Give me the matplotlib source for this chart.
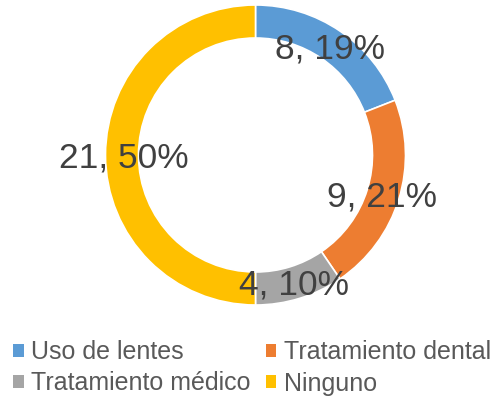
import matplotlib.pyplot as plt

plt.rcParams['font.family'] = ['Liberation Sans', 'DejaVu Sans']

labels = ['Uso de lentes', 'Tratamiento dental', 'Tratamiento médico', 'Ninguno']
values = [8, 9, 4, 21]
colors = ['#5B9BD5', '#ED7D31', '#A5A5A5', '#FFC000']
total = sum(values)

W, H = 494, 403
fig = plt.figure(figsize=(W / 100, H / 100), dpi=100)
# donut area: center (255.5, 155) px from top, radius 150 px
ax = fig.add_axes([105.5 / W, (H - 305) / H, 300 / W, 300 / H])


def fmt(pct):
    return '{:d}, {:.0f}%'.format(int(round(pct * total / 100)), pct)


wedges, _, autotexts = ax.pie(
    values, colors=colors, startangle=90, counterclock=False,
    radius=1, autopct=fmt, pctdistance=0.88,
    wedgeprops=dict(width=0.22, edgecolor='white', linewidth=1.2),
    textprops=dict(fontsize=25.5, color='#404040'))
for t in autotexts:
    t.set_va('center_baseline')
ax.set_xlim(-1, 1)
ax.set_ylim(-1, 1)
ax.set_aspect('equal')
ax.axis('off')

# legend laid out row by row: matplotlib fills columns first
order = [0, 2, 1, 3]
leg = fig.legend([wedges[i] for i in order], [labels[i] for i in order],
                 ncol=2, loc='upper left', bbox_to_anchor=(13 / W, 1 - 340 / H),
                 frameon=False, fontsize=18, handlelength=0.42, handleheight=0.42,
                 handletextpad=0.3, columnspacing=0.6, labelspacing=0.3,
                 borderpad=0, borderaxespad=0)
for t in leg.get_texts():
    t.set_color('#595959')
for h in leg.legend_handles:
    h.set_linewidth(0)

fig.savefig('out.png', dpi=100, facecolor='white')
